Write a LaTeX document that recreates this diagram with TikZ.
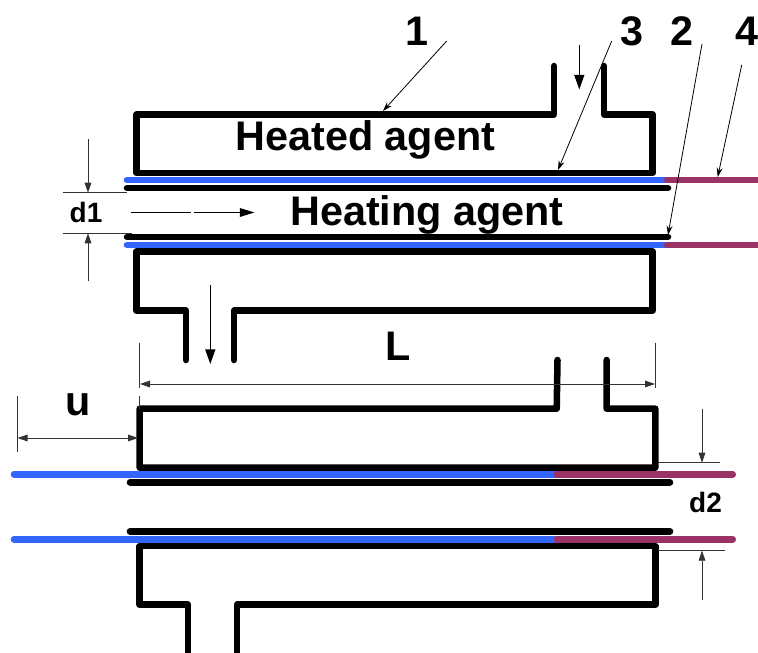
\documentclass[tikz,border=0pt]{standalone}
\usepackage{fontspec}
\setmainfont{Liberation Sans}
\usepackage{xcolor}
\usetikzlibrary{arrows.meta}
\definecolor{tubeblue}{HTML}{3366FF}
\definecolor{tubepurple}{HTML}{993366}
\tikzset{
  wall/.style={line width=4.9pt,line cap=round,line join=round,black},
  tubeblue/.style={line width=5pt,line cap=round,color=tubeblue},
  tubepurple/.style={line width=5pt,line cap=round,color=tubepurple},
  dimline/.style={line width=0.6pt,black!80},
  dimarrow/.style={dimline,-{Triangle[length=7.5pt,width=5pt]}},
  bothdim/.style={dimline,{Triangle[length=7.5pt,width=5pt]}-{Triangle[length=7.5pt,width=5pt]}},
  flowarrow/.style={line width=1.1pt,black,-{Triangle[length=11pt,width=7.5pt]}},
  leader/.style={line width=0.6pt,black,-{Stealth[length=7pt,width=4.5pt]}},
  biglabel/.style={anchor=base,inner sep=0pt,font=\fontsize{31}{31}\selectfont\bfseries},
  smalllabel/.style={anchor=base,inner sep=0pt,font=\fontsize{21}{21}\selectfont\bfseries}
}
\begin{document}
\begin{tikzpicture}[x=0.75pt,y=0.75pt,yscale=-1,xscale=1]
\useasboundingbox (0,0) rectangle (758,653);
\draw [wall]  (554,66) -- (554,114.5) -- (136.7,114.5) -- (136.7,173) -- (652.7,173) -- (652.7,114.5) -- (604,114.5) -- (604,66) ;
\draw [wall]  (186,360) -- (186,310.7) -- (136.7,310.7) -- (136.7,251.7) -- (652.7,251.7) -- (652.7,310.7) -- (234,310.7) -- (234,360) ;
\draw [wall]  (127,188) -- (668,188) ;
\draw [wall]  (127,237) -- (668,237) ;
\draw [tubeblue]  (127,180) -- (667,180) ;
\draw [tubeblue]  (127,245) -- (667,245) ;
\draw [tubepurple]  (667,180) -- (760,180) ;
\draw [tubepurple]  (667,245) -- (760,245) ;
\draw [wall]  (557.5,360) -- (556.7,408.7) -- (139.7,408.7) -- (139.7,467.7) -- (655.3,467.7) -- (655.3,408.7) -- (606.7,408.7) -- (606.7,360) ;
\draw [wall]  (188,660) -- (188,604.7) -- (139.7,604.7) -- (139.7,546) -- (655.3,546) -- (655.3,604.7) -- (237,604.7) -- (237,660) ;
\draw [wall]  (130,482.3) -- (670,482.3) ;
\draw [wall]  (130,531.3) -- (670,531.3) ;
\draw [tubeblue]  (14,474.3) -- (556.7,474.3) ;
\draw [tubeblue]  (14,539.3) -- (556.7,539.3) ;
\draw [tubepurple]  (556.7,474.3) -- (732.7,474.3) ;
\draw [tubepurple]  (556.7,539.3) -- (732.7,539.3) ;
\draw [dimline]  (63,192.7) -- (127,192.7) ;
\draw [dimline]  (63,233.3) -- (132,233.3) ;
\draw [dimarrow]  (88,139) -- (88,192.7) ;
\draw [dimarrow]  (88,281) -- (88,233.3) ;
\draw [dimline]  (139.5,342.5) -- (139.5,388) ;
\draw [dimline]  (655.3,342.5) -- (655.3,388) ;
\draw [bothdim]  (140,384) -- (655,384) ;
\draw [dimline]  (17,396) -- (17,451.5) ;
\draw [dimline]  (139.7,396) -- (139.7,409) ;
\draw [bothdim]  (17.5,438) -- (138,438) ;
\draw [dimline]  (658,462.7) -- (720,462.7) ;
\draw [dimline]  (658,550.7) -- (725,550.7) ;
\draw [dimarrow]  (702,408.5) -- (702,462.7) ;
\draw [dimarrow]  (702,600) -- (702,550.7) ;
\draw [line width=0.8pt]  (131,212.5) -- (191,212.5) ;
\draw [line width=0.8pt,-{Triangle[length=11pt,width=6.5pt]}]  (194,212.5) -- (254.5,212.5) ;
\draw [flowarrow]  (579.3,45) -- (579.3,89.5) ;
\draw [flowarrow]  (210.3,285) -- (210.3,364) ;
\coordinate (tail1) at (446.7,41);
\coordinate (head1) at (383,111);
\coordinate (tail3) at (611.7,41);
\coordinate (head3) at (558,170);
\coordinate (tail2) at (702,44);
\coordinate (head2) at (668,235);
\coordinate (tail4) at (741.7,65);
\coordinate (head4) at (717.7,177);
\draw [leader]  (tail1) -- (head1) ;
\draw [leader]  (tail3) -- (head3) ;
\draw [leader]  (tail2) -- (head2) ;
\draw [leader]  (tail4) -- (head4) ;
\node (num1) [biglabel] at (417,45.7) {1};
\node (num3) [biglabel] at (632,45.7) {3};
\node (num2) [biglabel] at (681.7,45.7) {2};
\node (num4) [biglabel] at (746.7,45.7) {4};
\node (heated) [biglabel] at (365.5,150) {Heated agent};
\node (heating) [biglabel] at (427,225.5) {Heating agent};
\node (lenL) [biglabel] at (398,360.7) {L};
\node (lenU) [biglabel] at (78.5,415) {u};
\node (gapD1) [smalllabel] at (86,222) {d1};
\node (gapD2) [smalllabel] at (705.5,512.7) {d2};
\end{tikzpicture}
\end{document}
